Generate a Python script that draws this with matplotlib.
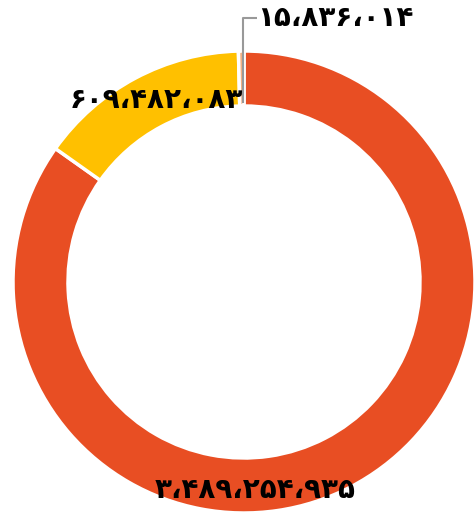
import matplotlib
matplotlib.use("Agg")
import matplotlib.pyplot as plt

values = [3489254935, 609482083, 15836014]
labels = ["۳،۴۸۹،۲۵۴،۹۳۵", "۶۰۹،۴۸۲،۰۸۳", "۱۵،۸۳۶،۰۱۴"]
colors = ["#E84E23", "#FFC000", "#F4B183"]

W, H = 477, 513
fig = plt.figure(figsize=(W / 100, H / 100), dpi=100)
ax = fig.add_axes([0, 0, 1, 1])

cx, cy, R = 244, 282, 231
# y axis inverted: counterclock=True with startangle=-90 appears clockwise from top
ax.pie(values, colors=colors, startangle=-90, counterclock=True, center=(cx, cy), radius=R,
       wedgeprops=dict(width=55, edgecolor="white", linewidth=2.5), frame=True)
ax.set_xlim(0, W)
ax.set_ylim(H, 0)
ax.set_aspect("equal")
ax.axis("off")

font = dict(family=["DejaVu Sans"], fontweight="bold", fontsize=20, color="black",
            ha="center", va="center")
ax.text(255, 490, labels[0], **font)
ax.text(156, 100, labels[1], **font)
ax.text(335, 18, labels[2], **font)
ax.plot([243, 243, 257], [103, 18, 18], color="#999999", lw=1.5, solid_capstyle="butt")

fig.savefig("out.png", dpi=100)
